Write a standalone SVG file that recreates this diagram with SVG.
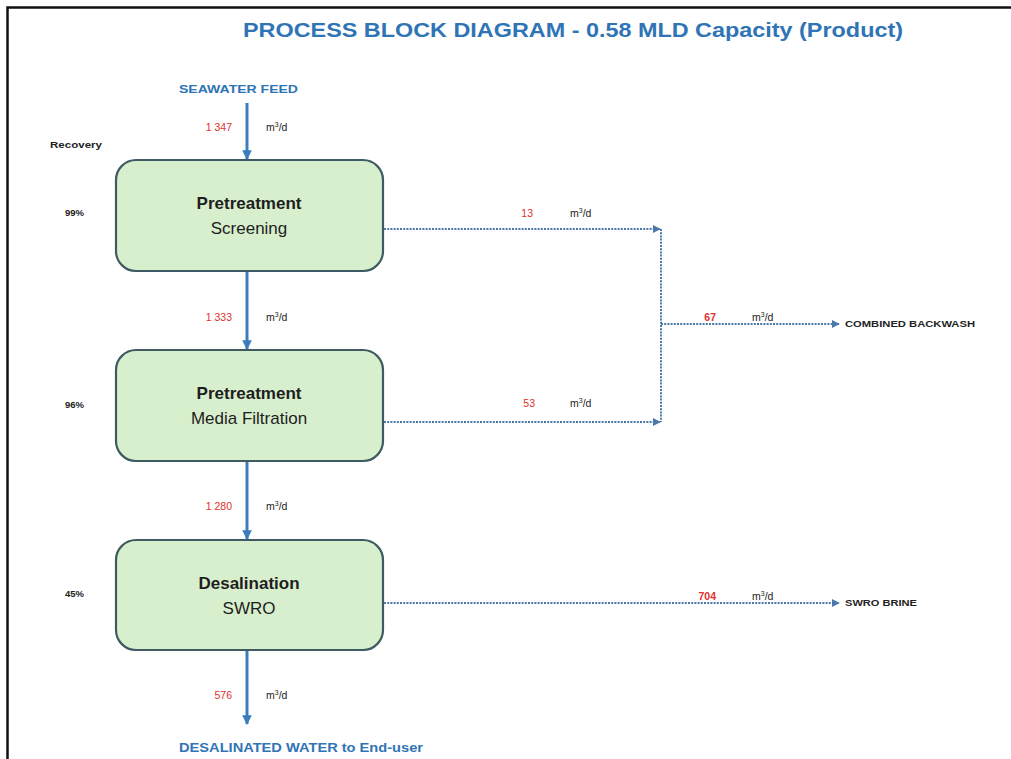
<svg xmlns="http://www.w3.org/2000/svg" width="1011" height="759" viewBox="0 0 1011 759">
  <style>
    .box { fill: #d8efcd; stroke: #3e5a62; stroke-width: 2.2; }
    .main { stroke: #3a7dbd; stroke-width: 3; fill: none; }
    .side { stroke: #4a78a8; stroke-width: 2; stroke-dasharray: 2 1.2; fill: none; }
    .t1 { font-family: "Liberation Sans", Arial, sans-serif; font-weight: bold; font-size: 17px; fill: #1e1e1e; text-anchor: middle; }
    .t2 { font-family: "Liberation Sans", Arial, sans-serif; font-size: 17px; fill: #1e1e1e; text-anchor: middle; }
    .flow { font-family: "Liberation Sans", Arial, sans-serif; font-size: 10.5px; fill: #e0302c; text-anchor: end; }
    .unit { font-family: "Liberation Sans", Arial, sans-serif; font-size: 10.5px; fill: #222; }
    .lbl { font-family: "Liberation Sans", Arial, sans-serif; font-weight: bold; font-size: 9.5px; fill: #222; }
    .blue { font-family: "Liberation Sans", Arial, sans-serif; font-weight: bold; fill: #2f74b5; }
  </style>
  <defs>
    <marker id="arrMain" viewBox="0 0 10 10" refX="9" refY="5" markerWidth="3.2" markerHeight="3.2" orient="auto">
      <path d="M0,0 L10,5 L0,10 z" fill="#3a7dbd"/>
    </marker>
    <marker id="arrSide" viewBox="0 0 10 10" refX="9" refY="5" markerWidth="4" markerHeight="4" orient="auto">
      <path d="M0,0 L10,5 L0,10 z" fill="#4a78a8"/>
    </marker>
  </defs>

  <rect width="1011" height="759" fill="#ffffff"/>
  <!-- frame -->
  <path d="M7.5,759 V7.5 H1011" fill="none" stroke="#111" stroke-width="2.5"/>

  <!-- title -->
  <text class="blue" x="573" y="37" font-size="21" text-anchor="middle" textLength="660" lengthAdjust="spacingAndGlyphs">PROCESS BLOCK DIAGRAM - 0.58 MLD Capacity (Product)</text>

  <text class="blue" x="179" y="93" font-size="11" textLength="119" lengthAdjust="spacingAndGlyphs">SEAWATER FEED</text>
  <text class="blue" x="179" y="752" font-size="13" textLength="244" lengthAdjust="spacingAndGlyphs">DESALINATED WATER to End-user</text>
  <text class="lbl" x="50" y="148" textLength="52" lengthAdjust="spacingAndGlyphs">Recovery</text>

  <!-- connectors -->
  <g id="connectors">
    <line class="main" x1="247" y1="103" x2="247" y2="159" marker-end="url(#arrMain)"/>
    <line class="main" x1="247" y1="272" x2="247" y2="349" marker-end="url(#arrMain)"/>
    <line class="main" x1="247" y1="462" x2="247" y2="539" marker-end="url(#arrMain)"/>
    <line class="main" x1="247" y1="651" x2="247" y2="724" marker-end="url(#arrMain)"/>

    <line class="side" x1="384" y1="229" x2="660" y2="229" marker-end="url(#arrSide)"/>
    <line class="side" x1="384" y1="422" x2="660" y2="422" marker-end="url(#arrSide)"/>
    <line class="side" x1="661" y1="229" x2="661" y2="422"/>
    <line class="side" x1="661" y1="324" x2="839" y2="324" marker-end="url(#arrSide)"/>
    <line class="side" x1="384" y1="603" x2="839" y2="603" marker-end="url(#arrSide)"/>

    <text class="flow" x="232" y="131">1 347</text>
    <text class="unit" x="266" y="131">m<tspan font-size="7" dy="-4">3</tspan><tspan dy="4">/d</tspan></text>
    <text class="flow" x="232" y="321">1 333</text>
    <text class="unit" x="266" y="321">m<tspan font-size="7" dy="-4">3</tspan><tspan dy="4">/d</tspan></text>
    <text class="flow" x="232" y="510">1 280</text>
    <text class="unit" x="266" y="510">m<tspan font-size="7" dy="-4">3</tspan><tspan dy="4">/d</tspan></text>
    <text class="flow" x="232" y="699">576</text>
    <text class="unit" x="266" y="699">m<tspan font-size="7" dy="-4">3</tspan><tspan dy="4">/d</tspan></text>

    <text class="flow" x="533" y="217">13</text>
    <text class="unit" x="570" y="217">m<tspan font-size="7" dy="-4">3</tspan><tspan dy="4">/d</tspan></text>
    <text class="flow" x="535" y="407">53</text>
    <text class="unit" x="570" y="407">m<tspan font-size="7" dy="-4">3</tspan><tspan dy="4">/d</tspan></text>
    <text class="flow" x="716" y="321" font-weight="bold">67</text>
    <text class="unit" x="752" y="321">m<tspan font-size="7" dy="-4">3</tspan><tspan dy="4">/d</tspan></text>
    <text class="flow" x="716" y="600" font-weight="bold">704</text>
    <text class="unit" x="752" y="600">m<tspan font-size="7" dy="-4">3</tspan><tspan dy="4">/d</tspan></text>

    <text class="lbl" x="845" y="327" textLength="130" lengthAdjust="spacingAndGlyphs">COMBINED BACKWASH</text>
    <text class="lbl" x="845" y="606" textLength="72" lengthAdjust="spacingAndGlyphs">SWRO BRINE</text>
  </g>

  <!-- process blocks -->
  <g id="screening">
    <rect class="box" x="116" y="160" width="267" height="111" rx="20"/>
    <text class="t1" x="249" y="209">Pretreatment</text>
    <text class="t2" x="249" y="234">Screening</text>
    <text class="lbl" x="65" y="216">99%</text>
  </g>
  <g id="media-filtration">
    <rect class="box" x="116" y="350" width="267" height="111" rx="20"/>
    <text class="t1" x="249" y="399">Pretreatment</text>
    <text class="t2" x="249" y="424">Media Filtration</text>
    <text class="lbl" x="65" y="408">96%</text>
  </g>
  <g id="swro">
    <rect class="box" x="116" y="540" width="267" height="110" rx="20"/>
    <text class="t1" x="249" y="589">Desalination</text>
    <text class="t2" x="249" y="614">SWRO</text>
    <text class="lbl" x="65" y="597">45%</text>
  </g>
</svg>
